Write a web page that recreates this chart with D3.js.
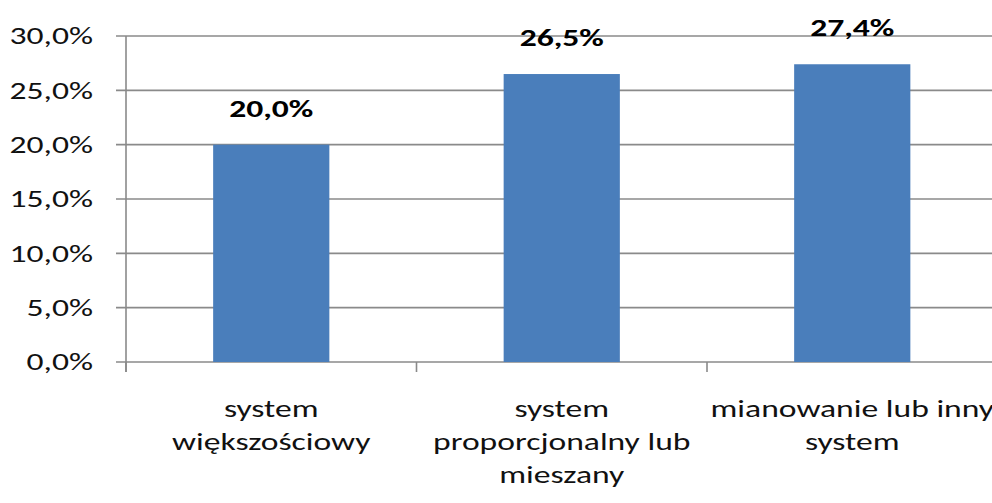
<!DOCTYPE html>
<html><head><meta charset="utf-8">
<script src="https://cdn.jsdelivr.net/npm/d3@7"></script>
<style>html,body{margin:0;padding:0;background:#fff;overflow:hidden}</style>
</head><body>
<svg id="chart" width="992" height="503"></svg>
<script>
const categories = ["system\nwiększościowy", "system\nproporcjonalny lub\nmieszany", "mianowanie lub inny\nsystem"];
const values = [0.200, 0.265, 0.274];
const yTicks = [0, 0.05, 0.10, 0.15, 0.20, 0.25, 0.30];

(function() {
const FONT = "Carlito, Lato, 'Open Sans', sans-serif";
const FS = 24, SX = 1.4;
const svg = d3.select("#chart");
const mLeft = 126, mTop = 36, mBottom = 362, mRight = 997.5;

const loc = d3.formatLocale({decimal: ",", thousands: " ", grouping: [3], currency: ["", " zł"], percent: "%"});
const fmt = loc.format(".1%");

const x = d3.scaleBand().domain(categories).range([mLeft, mRight]).paddingInner(0.6).paddingOuter(0.3);
const y = d3.scaleLinear().domain([0, 0.30]).range([mBottom, mTop]);

const grid = "#8a8a8a";
svg.append("g").selectAll("line").data(yTicks).join("line")
  .attr("x1", mLeft - 10).attr("x2", 992)
  .attr("y1", d => y(d)).attr("y2", d => y(d))
  .attr("stroke", grid).attr("stroke-width", 1.6);
svg.append("g").selectAll("text").data(yTicks).join("text")
  .attr("transform", d => `translate(93,${y(d)}) scale(${SX},1)`)
  .attr("dy", "0.35em")
  .attr("text-anchor", "end").attr("font-family", FONT).attr("font-size", FS)
  .attr("fill", "#111").text(d => fmt(d));
svg.append("line").attr("x1", mLeft).attr("x2", mLeft).attr("y1", mTop).attr("y2", mBottom + 10)
  .attr("stroke", grid).attr("stroke-width", 1.6);
const bounds = categories.map(d => x(d) - x.step() * x.paddingInner() / 2).concat([mRight]);
svg.append("g").selectAll("line").data(bounds).join("line")
  .attr("x1", d => d).attr("x2", d => d).attr("y1", mBottom).attr("y2", mBottom + 10)
  .attr("stroke", grid).attr("stroke-width", 1.6);

svg.append("g").selectAll("rect").data(values).join("rect")
  .attr("x", (d, i) => x(categories[i])).attr("width", x.bandwidth())
  .attr("y", d => y(d)).attr("height", d => mBottom - y(d))
  .attr("fill", "#4a7ebb");

svg.append("g").selectAll("text").data(values).join("text")
  .attr("transform", (d, i) => `translate(${x(categories[i]) + x.bandwidth() / 2},${y(d) - 28}) scale(${SX},1)`)
  .attr("text-anchor", "middle").attr("font-family", FONT).attr("font-size", FS)
  .attr("font-weight", "bold").attr("fill", "#000").text(d => fmt(d));

const cat = svg.append("g").selectAll("text").data(categories).join("text")
  .attr("transform", d => `translate(${x(d) + x.bandwidth() / 2},417) scale(${SX},1)`)
  .attr("text-anchor", "middle").attr("font-family", FONT).attr("font-size", FS).attr("fill", "#111");
cat.each(function(d) {
  d3.select(this).selectAll("tspan").data(d.split("\n")).join("tspan")
    .attr("x", 0).attr("y", (l, i) => i * 33).text(l => l);
});
})();
</script>
</body></html>
